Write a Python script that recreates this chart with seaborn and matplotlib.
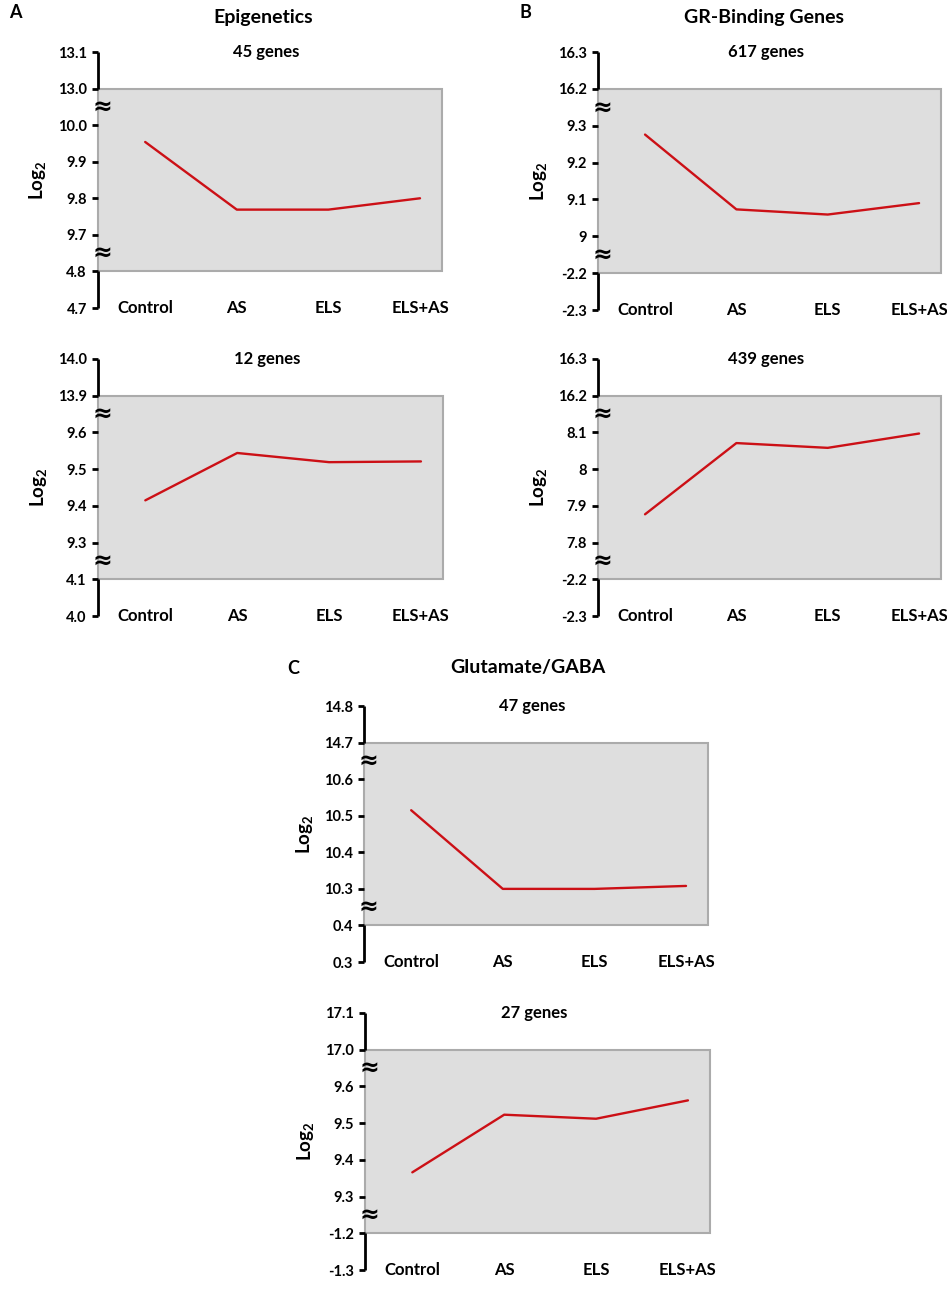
import numpy as np
import matplotlib
matplotlib.use("Agg")
import matplotlib.pyplot as plt
import seaborn as sns

# ---- data ----
groups = ['Control', 'AS', 'ELS', 'ELS+AS']

epi_up = [9.954, 9.769, 9.769, 9.800]
epi_up_ticks = [4.7, 4.8, 9.7, 9.8, 9.9, 10.0, 13.0, 13.1]
epi_up_labels = ['4.7', '4.8', '9.7', '9.8', '9.9', '10.0', '13.0', '13.1']

epi_down = [9.415, 9.544, 9.519, 9.521]
epi_down_ticks = [4.0, 4.1, 9.3, 9.4, 9.5, 9.6, 13.9, 14.0]
epi_down_labels = ['4.0', '4.1', '9.3', '9.4', '9.5', '9.6', '13.9', '14.0']

gr_up = [9.276, 9.073, 9.059, 9.090]
gr_up_ticks = [-2.3, -2.2, 9.0, 9.1, 9.2, 9.3, 16.2, 16.3]
gr_up_labels = ['-2.3', '-2.2', '9', '9.1', '9.2', '9.3', '16.2', '16.3']

gr_down = [7.877, 8.071, 8.058, 8.097]
gr_down_ticks = [-2.3, -2.2, 7.8, 7.9, 8.0, 8.1, 16.2, 16.3]
gr_down_labels = ['-2.3', '-2.2', '7.8', '7.9', '8', '8.1', '16.2', '16.3']

glu_up = [10.515, 10.294, 10.288, 10.308]
glu_up_ticks = [0.3, 0.4, 10.3, 10.4, 10.5, 10.6, 14.7, 14.8]
glu_up_labels = ['0.3', '0.4', '10.3', '10.4', '10.5', '10.6', '14.7', '14.8']

glu_down = [9.366, 9.523, 9.512, 9.562]
glu_down_ticks = [-1.3, -1.2, 9.3, 9.4, 9.5, 9.6, 17.0, 17.1]
glu_down_labels = ['-1.3', '-1.2', '9.3', '9.4', '9.5', '9.6', '17.0', '17.1']

gene_counts = ['45 genes', '12 genes', '617 genes', '439 genes', '47 genes', '27 genes']

W, H = 947, 1300
RED = '#cc1016'
BOX_FILL = '#dedede'
BOX_EDGE = '#ababab'

sns.set_theme(style="white")
plt.rcParams['font.family'] = ['Lato', 'DejaVu Sans']
plt.rcParams['mathtext.default'] = 'regular'
plt.rcParams['text.color'] = 'black'
plt.rcParams['xtick.color'] = 'black'
plt.rcParams['ytick.color'] = 'black'

fig = plt.figure(figsize=(W / 100, H / 100), dpi=100)


def px_axes(left, top, right, bottom):
    return fig.add_axes([left / W, 1 - bottom / H, (right - left) / W, (bottom - top) / H])


def draw_panel(rect, values, ticks, tick_labels, title):
    ax = px_axes(*rect)
    idx = np.arange(len(ticks))
    # broken axis: each tick gets the same spacing
    fwd = lambda y: np.interp(y, ticks, idx)
    inv = lambda p: np.interp(p, idx, ticks)
    ax.set_yscale('function', functions=(fwd, inv))

    ax.axhspan(ticks[1], ticks[-2], xmin=0, xmax=1, facecolor=BOX_FILL,
               edgecolor=BOX_EDGE, lw=1.5, clip_on=False, zorder=0)
    sns.lineplot(x=groups, y=values, ax=ax, color=RED, lw=1.7, zorder=3)

    ax.set_xlim(-0.515, 3.24)
    ax.set_ylim(ticks[0], ticks[-1])
    for s in ax.spines.values():
        s.set_visible(False)

    # black axis pieces outside the grey box
    ytr = ax.get_yaxis_transform()
    ax.vlines(0, ticks[0], ticks[1], transform=ytr, color='black', lw=2, clip_on=False)
    ax.vlines(0, ticks[-2], ticks[-1], transform=ytr, color='black', lw=2, clip_on=False)
    for a, b in [(ticks[1], ticks[2]), (ticks[-3], ticks[-2])]:
        ax.text(0.012, (a + b) / 2, '≈', transform=ytr, ha='center', va='center',
                fontsize=17, fontweight='bold', color='black', zorder=5,
                family=['DejaVu Sans'])

    ax.set_yticks(ticks, tick_labels, fontweight='bold', fontsize=10.5)
    ax.tick_params(axis='y', left=True, direction='out', length=4, width=2,
                   color='black', pad=4, labelcolor='black')
    ax.set_xticks(ax.get_xticks(), groups, fontweight='bold', fontsize=12, va='center')
    ax.tick_params(axis='x', bottom=False, length=0, pad=0, labelcolor='black')
    ax.set_xlabel('')
    ax.set_ylabel('')

    ax.text(0.49, 1.0, title, transform=ax.transAxes, ha='center', va='center',
            fontsize=12, fontweight='bold', color='black')
    ax.text(-60 / (rect[2] - rect[0]), 0.5, 'Log$_2$', transform=ax.transAxes,
            ha='center', va='center', rotation=90, fontsize=13.5, fontweight='bold',
            color='black')
    return ax


draw_panel((98, 52, 442, 308), epi_up, epi_up_ticks, epi_up_labels, gene_counts[0])
draw_panel((98, 359, 443, 616), epi_down, epi_down_ticks, epi_down_labels, gene_counts[1])
draw_panel((598, 52, 941, 310), gr_up, gr_up_ticks, gr_up_labels, gene_counts[2])
draw_panel((598, 359, 941, 616), gr_down, gr_down_ticks, gr_down_labels, gene_counts[3])
draw_panel((364, 706, 708, 962), glu_up, glu_up_ticks, glu_up_labels, gene_counts[4])
draw_panel((365, 1013, 710, 1270), glu_down, glu_down_ticks, glu_down_labels, gene_counts[5])

# group titles and panel letters
for txt, x, y in [('Epigenetics', 263, 17), ('GR-Binding Genes', 764, 17), ('Glutamate/GABA', 528, 668)]:
    fig.text(x / W, 1 - y / H, txt, ha='center', va='center', fontsize=14, fontweight='bold')
for txt, x, y in [('A', 15, 13), ('B', 525, 13), ('C', 293, 668)]:
    fig.text(x / W, 1 - y / H, txt, ha='center', va='center', fontsize=13, fontweight='bold')

fig.savefig('out.png', dpi=100)
